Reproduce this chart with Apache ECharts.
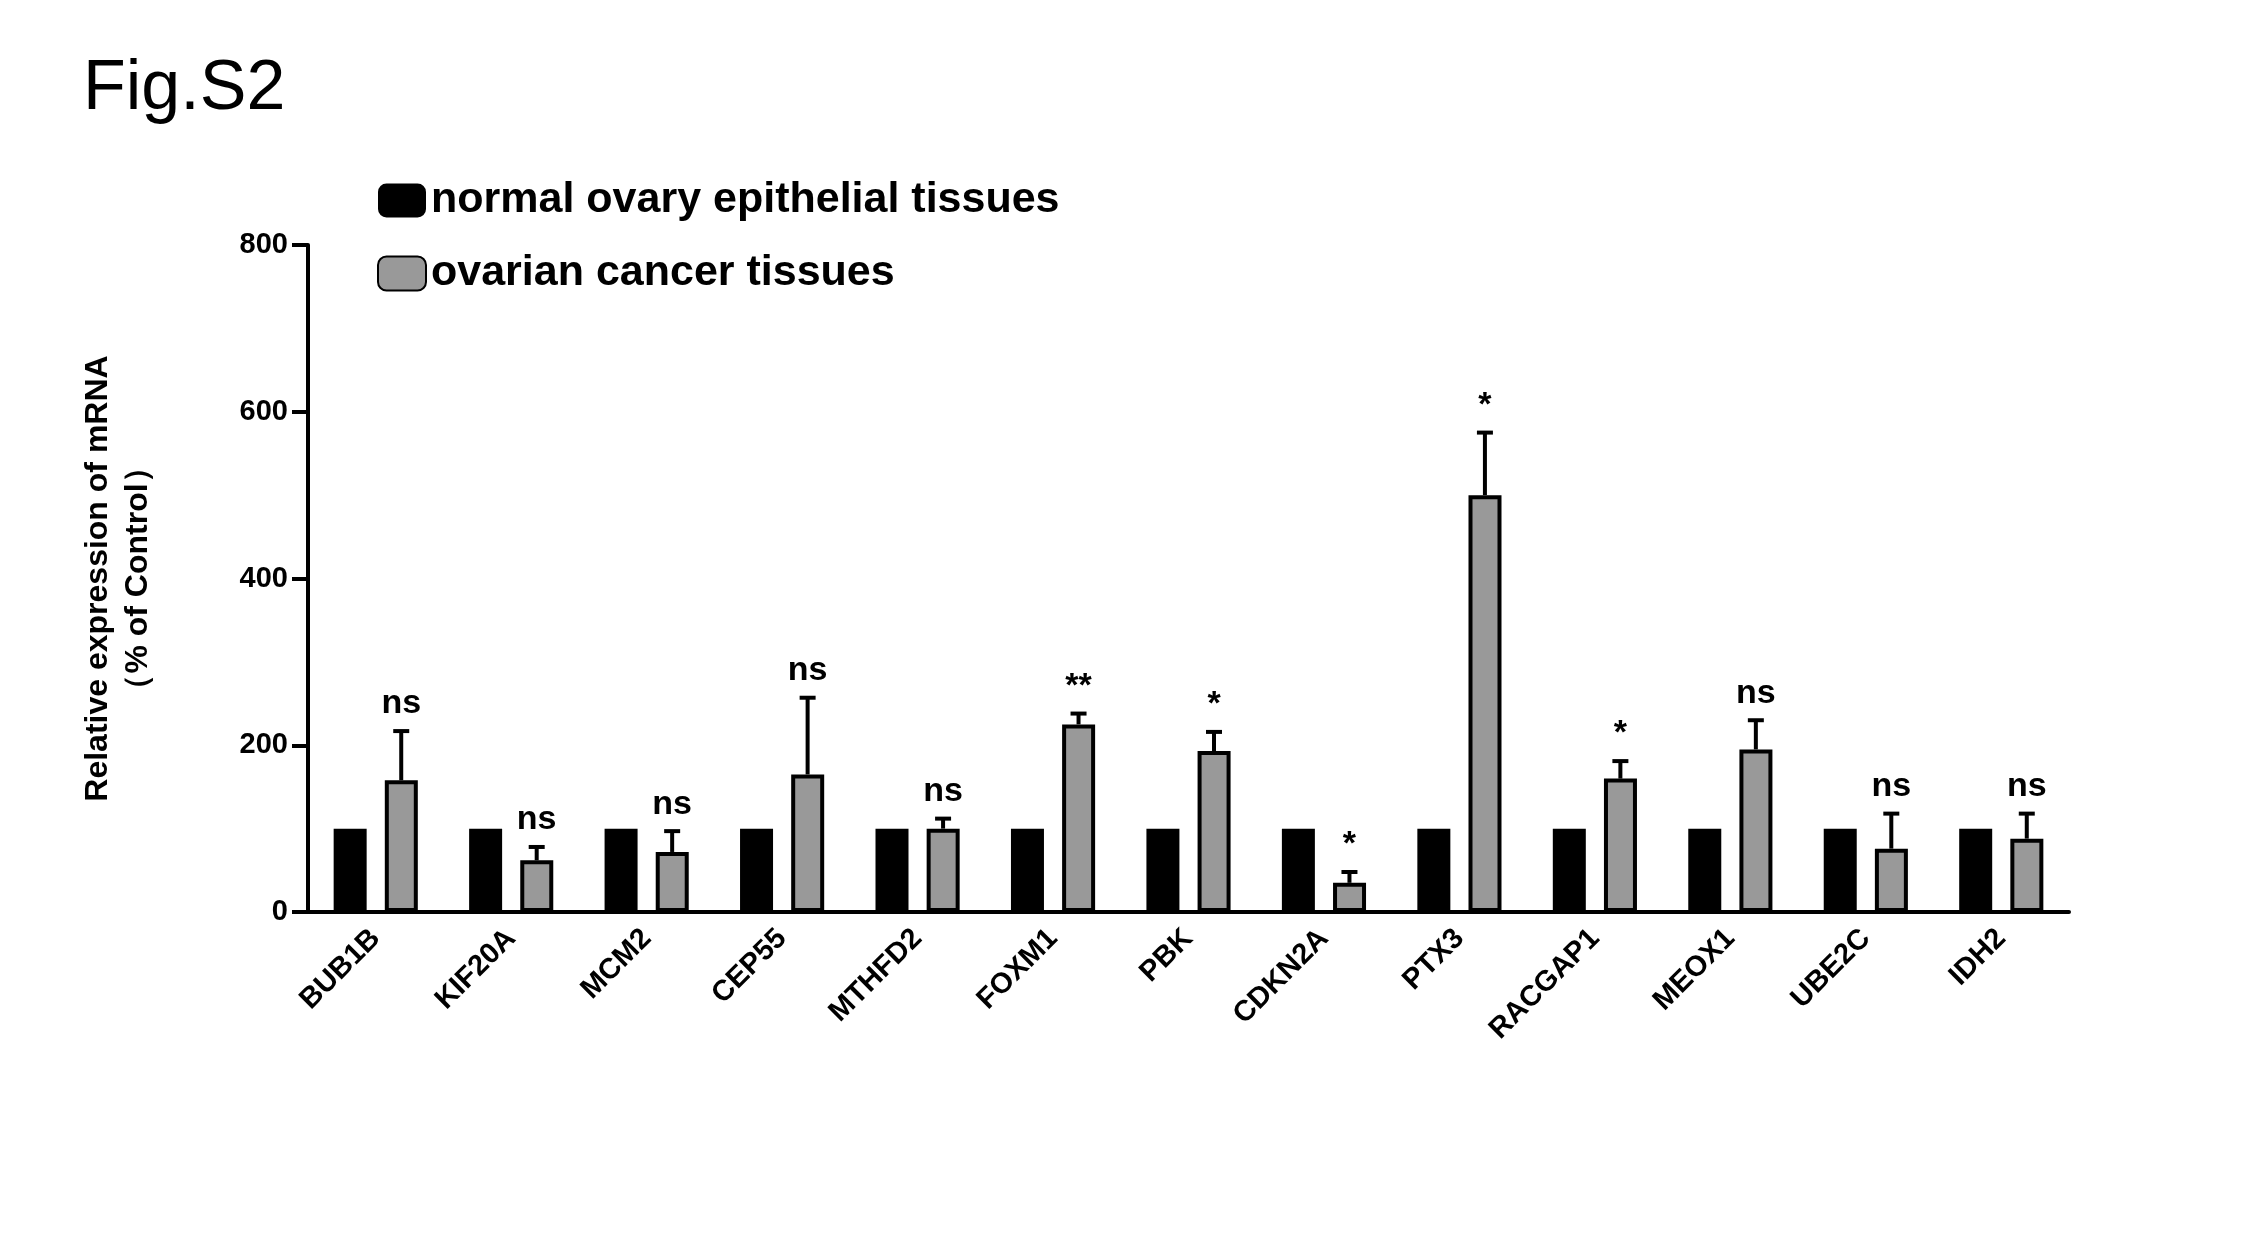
<!DOCTYPE html>
<html><head><meta charset="utf-8">
<script src="https://cdn.jsdelivr.net/npm/echarts@6/dist/echarts.min.js"></script>
<style>html,body{margin:0;background:#fff}#c{width:2251px;height:1250px}</style>
</head><body><div id="c"></div>
<script>
const categories = ['BUB1B','KIF20A','MCM2','CEP55','MTHFD2','FOXM1','PBK','CDKN2A','PTX3','RACGAP1','MEOX1','UBE2C','IDH2'];
const normalValues = [100,100,100,100,100,100,100,100,100,100,100,100,100];
const cancerValues = [158,62,72,165,100,225,193,35,500,160,195,76,88];
const cancerErrTop = [217,78,97,257,112,238,216,48,575,181,230,118,118];
const sigLabels = ['ns','ns','ns','ns','ns','**','*','*','*','*','ns','ns','ns'];
const yTicks = [0,200,400,600,800];

const FONT = '"Liberation Sans", Arial, sans-serif';
const BW = 33, OFF = 25.5;
const chart = echarts.init(document.getElementById('c'));
chart.setOption({
  animation:false,
  textStyle:{fontFamily:FONT},
  title:{text:'Fig.S2',left:78,top:50,textStyle:{fontSize:70,fontWeight:'normal',color:'#000',fontFamily:FONT}},
  legend:{orient:'vertical',left:372,top:174,itemWidth:48,itemHeight:34,itemGap:30,
    textStyle:{fontSize:43,fontWeight:'bold',color:'#000',fontFamily:FONT},
    data:['normal ovary epithelial tissues','ovarian cancer tissues']},
  grid:{left:308,right:182,top:245,bottom:338},
  xAxis:{type:'category',data:categories,
    axisLine:{lineStyle:{color:'#000',width:4}},
    axisTick:{alignWithLabel:true,length:16,lineStyle:{width:4,color:'#000'}},
    axisLabel:{rotate:45,fontSize:29,fontWeight:'bold',color:'#000',margin:22,fontFamily:FONT}},
  yAxis:{type:'value',min:0,max:800,interval:200,
    name:'Relative expression of mRNA\n（% of Control）',nameLocation:'middle',nameGap:150,
    nameTextStyle:{fontSize:32,fontWeight:'bold',color:'#000',lineHeight:40,fontFamily:FONT},
    splitLine:{show:false},
    axisLine:{show:true,lineStyle:{color:'#000',width:4}},
    axisTick:{show:true,length:16,lineStyle:{width:4,color:'#000'}},
    axisLabel:{fontSize:29,fontWeight:'bold',color:'#000',margin:20,fontFamily:FONT,
      formatter:v=>yTicks.includes(v)?String(v):''}},
  series:[
    {name:'normal ovary epithelial tissues',type:'bar',data:normalValues,barWidth:BW,barGap:'55%',
     itemStyle:{color:'#000'}},
    {name:'ovarian cancer tissues',type:'bar',data:cancerValues,barWidth:BW,
     itemStyle:{color:'#999',borderColor:'#000',borderWidth:4}},
    {type:'custom',data:cancerValues.map((v,i)=>[i,v,cancerErrTop[i]]),z:10,
     renderItem:(params,api)=>{
       const i=api.value(0);
       const base=api.coord([i,api.value(1)]);
       const top=api.coord([i,api.value(2)]);
       const x=base[0]+OFF;
       return {type:'group',children:[
         {type:'line',shape:{x1:x,y1:base[1],x2:x,y2:top[1]},style:{stroke:'#000',lineWidth:4}},
         {type:'line',shape:{x1:x-8,y1:top[1],x2:x+8,y2:top[1]},style:{stroke:'#000',lineWidth:4}},
         {type:'text',x:x,y:top[1]-10,style:{text:sigLabels[i],fill:'#000',font:'bold 34px '+FONT,
           textAlign:'center',textVerticalAlign:'bottom'}}
       ]};
     }}
  ]
});
</script></body></html>
